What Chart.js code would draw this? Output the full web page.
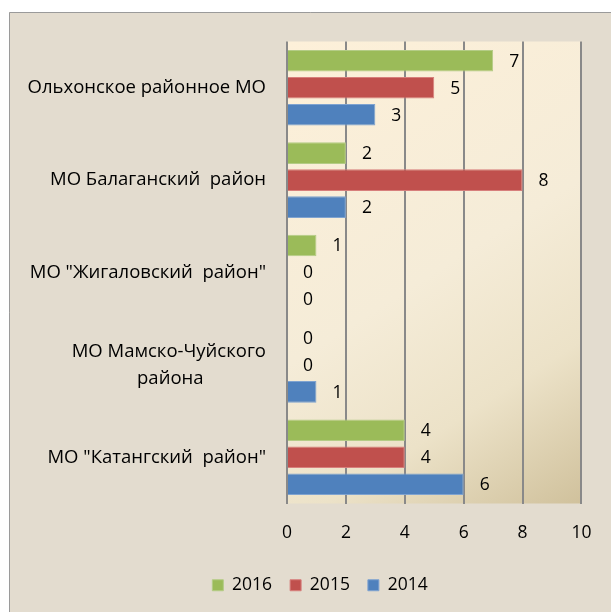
<!DOCTYPE html>
<html lang="ru">
<head>
<meta charset="utf-8">
<title>Районы</title>
<script src="https://cdn.jsdelivr.net/npm/chart.js@4.4.1/dist/chart.umd.min.js"></script>
<style>
  html, body { margin: 0; padding: 0; background: #ffffff; }
  #wrap { width: 611px; height: 612px; }
</style>
</head>
<body>
<div id="wrap"><canvas id="grafica" width="611" height="612"></canvas></div>
<script>
// Данные
const rayony = [
    'Ольхонское районное МО',
    'МО Балаганский  район',
    'МО "Жигаловский  район"',
    ['МО Мамско-Чуйского', 'района'],
    'МО "Катангский  район"'
];
const anios = ['2016', '2015', '2014'];
const datos2016 = [7, 2, 1, 0, 4];
const datos2015 = [5, 8, 0, 0, 4];
const datos2014 = [3, 2, 0, 1, 6];
const ejeX = [0, 2, 4, 6, 8, 10];

const colores = ['#9bbb59', '#c0504d', '#4f81bd'];
const bordes = ['#b4cc86', '#d77f7c', '#7fa3d0'];
const fuente = '"Open Sans", "Noto Sans", sans-serif';
const tamano = 17.5;
const tamanoEtiq = 18.5;

const ctx = document.getElementById('grafica').getContext('2d');

// Centrar las líneas de una etiqueta de varias líneas con espacios
function centrarLineas(lineas) {
    if (!Array.isArray(lineas)) return lineas;
    ctx.font = `${tamanoEtiq}px ${fuente}`;
    const nb = '\u00a0';
    const anchoEsp = ctx.measureText(nb).width;
    const anchos = lineas.map(l => ctx.measureText(l).width);
    const max = Math.max(...anchos);
    return lineas.map((l, i) => {
        const n = Math.round((max - anchos[i]) / 2 / anchoEsp);
        return l + nb.repeat(n);
    });
}

// Fondo de la hoja y del área de trazado
const fondo = {
    id: 'fondo',
    afterLayout(chart) {
        // la leyenda va un poco a la derecha
        chart.legend.left += 29;
        chart.legend.right += 29;
    },
    beforeDraw(chart) {
        const c = chart.ctx;
        const a = chart.chartArea;
        c.save();
        c.fillStyle = '#ffffff';
        c.fillRect(0, 0, chart.width, chart.height);
        c.fillStyle = '#e3dccf';
        c.fillRect(9, 12, chart.width - 9, chart.height - 12);
        c.strokeStyle = '#9a9a9a';
        c.lineWidth = 1;
        c.beginPath();
        c.moveTo(9.5, chart.height);
        c.lineTo(9.5, 12.5);
        c.lineTo(chart.width, 12.5);
        c.stroke();
        const g = c.createLinearGradient(a.left, a.top, a.right, a.bottom);
        g.addColorStop(0, '#fdf0d9');
        g.addColorStop(0.5, '#f5ecd8');
        g.addColorStop(0.75, '#ece2c8');
        g.addColorStop(1, '#d0c19c');
        c.fillStyle = g;
        c.fillRect(a.left, a.top, a.right - a.left, a.bottom - a.top);
        c.restore();
    }
};

// Valores al final de cada barra
const valores = {
    id: 'valores',
    afterDatasetsDraw(chart) {
        const c = chart.ctx;
        c.save();
        c.font = `${tamano}px ${fuente}`;
        c.fillStyle = '#000000';
        c.textAlign = 'left';
        c.textBaseline = 'middle';
        chart.data.datasets.forEach((ds, i) => {
            chart.getDatasetMeta(i).data.forEach((barra, j) => {
                c.fillText(String(ds.data[j]), barra.x + 16, barra.y + 1);
            });
        });
        c.restore();
    }
};

const chart = new Chart(ctx, {
    type: 'bar',
    data: {
        labels: rayony.map(centrarLineas),
        datasets: [
            { label: anios[0], data: datos2016, backgroundColor: colores[0], borderColor: bordes[0] },
            { label: anios[1], data: datos2015, backgroundColor: colores[1], borderColor: bordes[1] },
            { label: anios[2], data: datos2014, backgroundColor: colores[2], borderColor: bordes[2] }
        ].map(ds => Object.assign(ds, {
            borderWidth: c => (c.raw ? 1 : 0),
            borderSkipped: 'start',
            categoryPercentage: 0.877,
            barPercentage: 0.8
        }))
    },
    options: {
        indexAxis: 'y',
        responsive: false,
        animation: false,
        layout: { padding: { left: 0, right: 29, top: 41.5, bottom: 8 } },
        scales: {
            x: {
                min: ejeX[0],
                max: ejeX[ejeX.length - 1],
                afterBuildTicks: (escala) => { escala.ticks = ejeX.map(v => ({ value: v })); },
                grid: { color: '#898989', lineWidth: 2, drawTicks: false },
                border: { display: false },
                ticks: {
                    padding: 19.5,
                    color: '#000000',
                    font: { family: fuente, size: tamano }
                },
                afterFit: (escala) => { escala.height = 55; }
            },
            y: {
                grid: { display: false, drawTicks: false },
                border: { display: false },
                ticks: {
                    padding: 21,
                    color: '#000000',
                    font: { family: fuente, size: tamanoEtiq, lineHeight: 1.45 }
                },
                afterFit: (escala) => { escala.width = 287; }
            }
        },
        plugins: {
            legend: {
                position: 'bottom',
                labels: {
                    boxWidth: 11,
                    boxHeight: 11,
                    padding: 18,
                    color: '#000000',
                    font: { family: fuente, size: tamano }
                }
            },
            tooltip: { enabled: false }
        }
    },
    plugins: [fondo, valores]
});
</script>
</body>
</html>
